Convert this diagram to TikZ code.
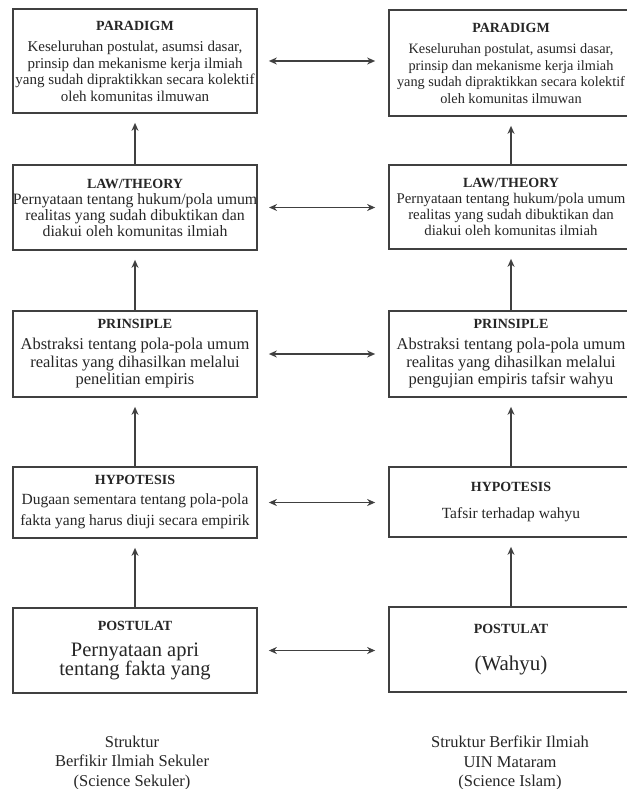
\documentclass[tikz,border=0pt]{standalone}
\usepackage{fontspec}
\setmainfont{Liberation Serif}
\usetikzlibrary{arrows.meta}

\newcommand{\boxtitle}[1]{{\fontsize{14}{15}\selectfont\bfseries #1}}

\begin{document}
\begin{tikzpicture}[x=1pt,y=-1pt,
  box/.style={draw=black!75, line width=1.7pt, minimum width=244pt, inner sep=0pt, align=center, text=black!85},
  uparrow/.style={draw=black!75, line width=1.6pt, -{Stealth[length=8pt,width=7pt]}, shorten >=9pt},
  biarrow/.style={draw=black!75, line width=1.6pt, {Stealth[length=8pt,width=7pt]}-{Stealth[length=8pt,width=7pt]}, shorten <=11pt, shorten >=13pt},
  caption/.style={align=center, text=black!85, font=\fontsize{16.5}{19.5}\selectfont}]
  \useasboundingbox[fill=white] (0,0) rectangle (626,789);

  % Left column (science sekuler)
  \node[box, minimum height=104pt, font=\fontsize{15}{16.5}\selectfont] (parL) at (135,61)
    {\boxtitle{PARADIGM}\\[5pt]Keseluruhan postulat, asumsi dasar,\\prinsip dan mekanisme kerja ilmiah\\yang sudah dipraktikkan secara kolektif\\oleh komunitas ilmuwan};
  \node[box, minimum height=85pt, font=\fontsize{15.8}{16}\selectfont] (lawL) at (135,207.5)
    {\boxtitle{LAW/THEORY}\\Pernyataan tentang hukum/pola umum\\realitas yang sudah dibuktikan dan\\diakui oleh komunitas ilmiah};
  \node[box, minimum height=86pt, font=\fontsize{16.5}{17.5}\selectfont] (priL) at (135,354)
    {\boxtitle{PRINSIPLE}\\[3.5pt]Abstraksi tentang pola-pola umum\\realitas yang dihasilkan melalui\\penelitian empiris};
  \node[box, minimum height=71pt, font=\fontsize{15.5}{21}\selectfont] (hypL) at (135,502.5)
    {\boxtitle{HYPOTESIS}\\[-1pt]Dugaan sementara tentang pola-pola\\fakta yang harus diuji secara empirik};
  \node[box, minimum height=85pt, font=\fontsize{20.5}{19}\selectfont] (posL) at (135,650.5)
    {\boxtitle{POSTULAT}\\[7pt]Pernyataan apri\\tentang fakta yang};

  % Right column (science Islam), running off the right edge
  \node[box, minimum height=106pt, font=\fontsize{14.3}{16.5}\selectfont] (parR) at (511,63)
    {\boxtitle{PARADIGM}\\[5pt]Keseluruhan postulat, asumsi dasar,\\prinsip dan mekanisme kerja ilmiah\\yang sudah dipraktikkan secara kolektif\\oleh komunitas ilmuwan};
  \node[box, minimum height=84pt, font=\fontsize{14.8}{16}\selectfont] (lawR) at (511,207)
    {\boxtitle{LAW/THEORY}\\Pernyataan tentang hukum/pola umum\\realitas yang sudah dibuktikan dan\\diakui oleh komunitas ilmiah};
  \node[box, minimum height=86pt, font=\fontsize{16.5}{17.5}\selectfont] (priR) at (511,354)
    {\boxtitle{PRINSIPLE}\\[3.5pt]Abstraksi tentang pola-pola umum\\realitas yang dihasilkan melalui\\pengujian empiris tafsir wahyu};
  \node[box, minimum height=70pt, font=\fontsize{15.5}{16.5}\selectfont] (hypR) at (511,502)
    {\boxtitle{HYPOTESIS}\\[10.5pt]Tafsir terhadap wahyu};
  \node[box, minimum height=85pt, font=\fontsize{21}{19}\selectfont] (posR) at (511,649.5)
    {\boxtitle{POSTULAT}\\[18pt](Wahyu)};

  % Upward arrows
  \draw[uparrow] (lawL.north) -- (parL.south);
  \draw[uparrow] (priL.north) -- (lawL.south);
  \draw[uparrow] (hypL.north) -- (priL.south);
  \draw[uparrow] (posL.north) -- (hypL.south);
  \draw[uparrow] (lawR.north) -- (parR.south);
  \draw[uparrow] (priR.north) -- (lawR.south);
  \draw[uparrow] (hypR.north) -- (priR.south);
  \draw[uparrow] (posR.north) -- (hypR.south);

  % Arrows between columns
  \draw[biarrow] (parL.east) -- (parL.east -| parR.west);
  \draw[biarrow] (lawL.east) -- (lawL.east -| lawR.west);
  \draw[biarrow] (priL.east) -- (priL.east -| priR.west);
  \draw[biarrow] (hypL.east) -- (hypL.east -| hypR.west);
  \draw[biarrow] (posL.east) -- (posL.east -| posR.west);

  % Captions under the columns
  \node[caption] (capL) at (132,763) {Struktur\\Berfikir Ilmiah Sekuler\\(Science Sekuler)};
  \node[caption] (capR) at (510,763) {Struktur Berfikir Ilmiah\\UIN Mataram\\(Science Islam)};
\end{tikzpicture}
\end{document}
